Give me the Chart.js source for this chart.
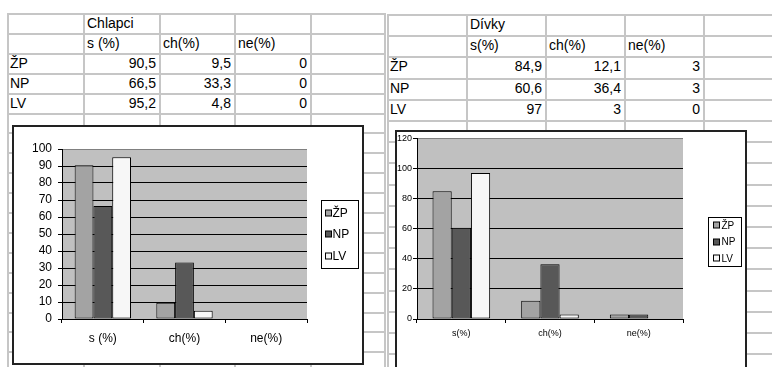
<!DOCTYPE html>
<html>
<head>
<meta charset="utf-8">
<script src="https://cdn.jsdelivr.net/npm/chart.js@4.4.1/dist/chart.umd.min.js"></script>
<style>
  body { margin: 0; width: 773px; height: 367px; overflow: hidden; background: #fff; position: relative;
         font-family: "Liberation Sans", Arial, sans-serif; }
  .ln { position: absolute; background: #c6c6c6; }
  .tx { position: absolute; font-size: 14px; white-space: nowrap; color: #000; box-sizing: border-box; }
  .frame { position: absolute; border: 2px solid #222; background: #fff; box-sizing: border-box; z-index: 2; }
  .frame canvas { display: block; }
</style>
</head>
<body>
<div class="frame" style="left:12px;top:125px;width:352px;height:240px"><canvas id="boysChart" width="348" height="236"></canvas></div>
<div class="frame" style="left:395px;top:130px;width:352px;height:260px"><canvas id="girlsChart" width="348" height="256"></canvas></div>
<script>
const seriesNames = ['ŽP', 'NP', 'LV'];
const seriesColors = ['#a3a3a3', '#585858', '#f7f7f7'];

const boysCategories = ['s (%)', 'ch(%)', 'ne(%)'];
const boysZP = [90.5, 9.5, 0];
const boysNP = [66.5, 33.3, 0];
const boysLV = [95.2, 4.8, 0];
const boysYMax = 100, boysYStep = 10;

const girlsCategories = ['s(%)', 'ch(%)', 'ne(%)'];
const girlsZP = [84.9, 12.1, 3];
const girlsNP = [60.6, 36.4, 3];
const girlsLV = [97, 3, 0];
const girlsYMax = 120, girlsYStep = 20;

const fmt = v => String(v).replace('.', ',');

// spreadsheet grid + table cells
function sheet(cols, top, rowH, xEnd, title, cats, rows) {
  const add = (cls, css, text) => {
    const d = document.createElement('div');
    d.className = cls;
    Object.assign(d.style, css);
    if (text != null) d.textContent = text;
    document.body.appendChild(d);
  };
  for (let y = top; y < 368; y += rowH)
    add('ln', { left: cols[0] - 1 + 'px', top: Math.round(y) - 1 + 'px', width: (xEnd - cols[0]) + 'px', height: '2px' });
  cols.forEach(x => add('ln', { left: x - 1 + 'px', top: top - 1 + 'px', width: '2px', height: (368 - top) + 'px' }));

  const cell = (c, r, text, right) => add('tx', {
    left: cols[c] + 1 + 'px', width: (cols[c + 1] - cols[c] - 2) + 'px',
    top: Math.round(top + r * rowH) + 'px', height: Math.round(rowH) + 'px',
    lineHeight: Math.round(rowH) - 2 + 'px', textAlign: right ? 'right' : 'left',
    padding: right ? '0 3px 0 0' : (c === 0 ? '0 0 0 1px' : '0 0 0 2px')
  }, text);

  cell(1, 0, title);
  cats.forEach((t, i) => cell(i + 1, 1, t));
  rows.forEach((vals, r) => {
    cell(0, r + 2, seriesNames[r]);
    vals.forEach((v, i) => cell(i + 1, r + 2, fmt(v), true));
  });
}

sheet([8, 84, 160, 235, 311, 385], 14, 19.9, 386, 'Chlapci', boysCategories, [boysZP, boysNP, boysLV]);
sheet([388, 467, 546, 625, 704, 783], 15, 21.2, 773, 'Dívky', girlsCategories, [girlsZP, girlsNP, girlsLV]);

// gray plot area + framed legend
const excelLook = {
  id: 'excelLook',
  beforeDraw(chart) {
    const { ctx, chartArea: a } = chart;
    ctx.save();
    ctx.fillStyle = '#c0c0c0';
    ctx.fillRect(a.left, a.top, a.right - a.left, a.bottom - a.top);
    ctx.restore();
  },
  afterDraw(chart, args, o) {
    const { ctx, chartArea: a } = chart;
    const x = Math.round(a.right + o.offsetX) + 0.5, y = o.top + 0.5;
    ctx.save();
    ctx.strokeStyle = '#000';
    ctx.lineWidth = 1;
    ctx.strokeRect(x, y, o.w, o.h);
    ctx.font = o.size + 'px "Liberation Sans", Arial, sans-serif';
    ctx.textBaseline = 'middle';
    chart.data.datasets.forEach((ds, i) => {
      const cy = y + o.first + i * o.step;
      ctx.fillStyle = ds.backgroundColor;
      ctx.fillRect(x + o.sq, Math.round(cy - o.box / 2), o.box, o.box);
      ctx.strokeRect(x + o.sq, Math.round(cy - o.box / 2), o.box, o.box);
      ctx.fillStyle = '#000';
      ctx.fillText(ds.label, x + o.tx, cy + 1);
    });
    ctx.restore();
  }
};

function makeChart(id, cats, series, c) {
  return new Chart(document.getElementById(id), {
    type: 'bar',
    data: {
      labels: cats,
      datasets: series.map((d, i) => ({
        label: seriesNames[i],
        data: d,
        backgroundColor: seriesColors[i],
        borderColor: '#000',
        borderWidth: ctx => ctx.raw === 0 ? 0 : 1,
        borderSkipped: false,
        categoryPercentage: c.catPct,
        barPercentage: 1
      }))
    },
    options: {
      responsive: false,
      animation: false,
      layout: { padding: c.padding },
      plugins: { legend: { display: false }, tooltip: { enabled: false }, excelLook: c.legend },
      scales: {
        x: {
          afterFit: s => { s.height = c.xHeight; },
          grid: { drawOnChartArea: false, offset: true, color: '#000', tickLength: 4 },
          border: { color: '#000' },
          ticks: { color: '#000', padding: c.xPad, font: { size: c.font, family: '"Liberation Sans", Arial' } }
        },
        y: {
          min: 0, max: c.yMax,
          afterFit: s => { s.width = c.yWidth; },
          grid: { color: t => t.tick && t.tick.value === c.yMax ? '#808080' : '#000', tickColor: '#000', tickLength: 4 },
          border: { color: '#000' },
          ticks: { stepSize: c.yStep, autoSkip: false, color: '#000', padding: c.yPad, font: { size: c.yFont, family: '"Liberation Sans", Arial' } }
        }
      }
    },
    plugins: [excelLook]
  });
}

makeChart('boysChart', boysCategories, [boysZP, boysNP, boysLV], {
  catPct: 0.69, yMax: boysYMax, yStep: boysYStep, font: 12, yFont: 12,
  padding: { left: 0, top: 22, right: 55, bottom: 14 }, xHeight: 30, yWidth: 48, xPad: 8, yPad: 6,
  legend: { offsetX: 14, top: 73, w: 37, h: 68, first: 12, step: 21.5, sq: 4, box: 6, tx: 11, size: 12 }
});

makeChart('girlsChart', girlsCategories, [girlsZP, girlsNP, girlsLV], {
  catPct: 0.65, yMax: girlsYMax, yStep: girlsYStep, font: 9, yFont: 9,
  padding: { left: 0, top: 6, right: 62, bottom: 44 }, xHeight: 25, yWidth: 20, xPad: 5, yPad: 1,
  legend: { offsetX: 25, top: 85, w: 33, h: 49, first: 7.5, step: 16.5, sq: 5, box: 6, tx: 13, size: 10 }
});
</script>
</body>
</html>
